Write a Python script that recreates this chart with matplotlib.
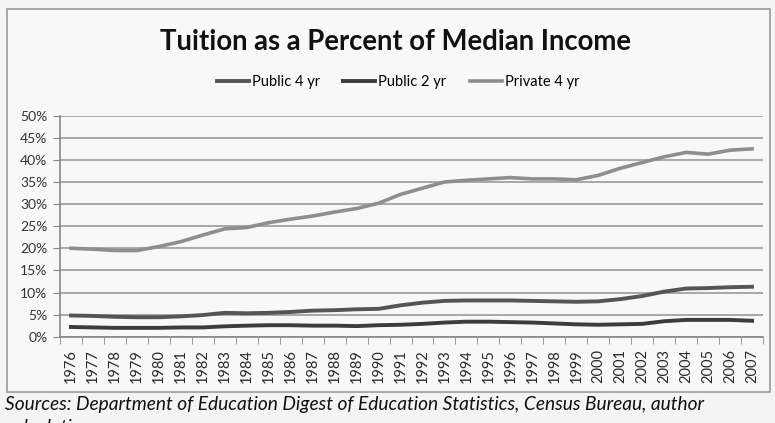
import numpy as np
import matplotlib
matplotlib.use("Agg")
import matplotlib.pyplot as plt
from matplotlib.ticker import PercentFormatter, FixedLocator

years = [str(y) for y in range(1976, 2008)]
public_4yr = [4.8, 4.7, 4.5, 4.4, 4.4, 4.6, 4.9, 5.4, 5.3, 5.4, 5.6, 5.9, 6.0, 6.2, 6.3,
              7.1, 7.7, 8.1, 8.2, 8.2, 8.2, 8.1, 8.0, 7.9, 8.0, 8.5, 9.2, 10.2, 10.9, 11.0, 11.2, 11.3]
public_2yr = [2.2, 2.1, 2.0, 2.0, 2.0, 2.1, 2.1, 2.35, 2.5, 2.6, 2.6, 2.5, 2.5, 2.4, 2.6,
              2.7, 2.9, 3.2, 3.4, 3.4, 3.3, 3.2, 3.0, 2.8, 2.7, 2.8, 2.9, 3.5, 3.8, 3.8, 3.8, 3.6]
private_4yr = [20.0, 19.8, 19.5, 19.5, 20.4, 21.5, 23.0, 24.4, 24.7, 25.8, 26.6, 27.3, 28.2, 29.0, 30.2,
               32.2, 33.6, 35.0, 35.4, 35.7, 36.0, 35.7, 35.7, 35.5, 36.5, 38.1, 39.4, 40.7, 41.7, 41.3, 42.2, 42.5]

plt.rcParams['font.family'] = ['Lato', 'DejaVu Sans']

fig = plt.figure(figsize=(7.75, 4.23), dpi=100)
fig.patch.set_facecolor('#f4f4f4')

# frame around the chart
frame = plt.Rectangle((7/775, 1-392/423), 763/775, (392-9)/423, transform=fig.transFigure,
                      fill=True, facecolor='#f8f8f8', edgecolor='#9a9a9a', lw=1.2, zorder=-10)
fig.patches.append(frame)

ax = fig.add_axes([60/775, 1-336.7/423, 703/775, 221/423])
ax.set_facecolor('none')
x = np.arange(len(years))
ax.plot(x, public_4yr, color='#555555', lw=2.8, label='Public 4 yr')
ax.plot(x, public_2yr, color='#3c3c3c', lw=2.8, label='Public 2 yr')
ax.plot(x, private_4yr, color='#8e8e8e', lw=2.6, label='Private 4 yr')

ax.set_xlim(-0.5, len(years) - 0.5)
ax.set_ylim(0, 50)
ax.set_yticks(np.arange(0, 51, 5))
ax.yaxis.set_major_formatter(PercentFormatter(decimals=0))
ax.set_xticks(x)
ax.set_xticklabels(years, rotation=90, fontsize=10.5, color='#2a2a2a')
ax.xaxis.set_minor_locator(FixedLocator(np.arange(-0.5, len(years), 1)))
ax.tick_params(axis='x', which='major', length=0, pad=9)
ax.tick_params(axis='x', which='minor', length=5, color='#888888')
ax.tick_params(axis='y', length=5, color='#888888', labelsize=10, labelcolor='#333333', pad=4)
ax.grid(axis='y', color='#9a9a9a', lw=1.2)
ax.set_axisbelow(True)
for s in ['top', 'right']:
    ax.spines[s].set_visible(False)
for s in ['left', 'bottom']:
    ax.spines[s].set_color('#888888')
    ax.spines[s].set_linewidth(1.2)

fig.text(395/775, 1-42/423, 'Tuition as a Percent of Median Income', ha='center', va='center',
         fontsize=19.8, fontweight='bold', color='#111111')
fig.legend(loc='center', bbox_to_anchor=(398/775, 1-82/423), ncol=3, frameon=False,
           fontsize=10.5, handlelength=2.2, handletextpad=0.2, columnspacing=1.6)

fig.text(5/775, 1-396/423, 'Sources: Department of Education Digest of Education Statistics, Census Bureau, author\ncalculations',
         ha='left', va='top', fontsize=13.8, style='italic', color='#111111', linespacing=1.45)

fig.savefig('out.png', dpi=100, facecolor=fig.get_facecolor())
